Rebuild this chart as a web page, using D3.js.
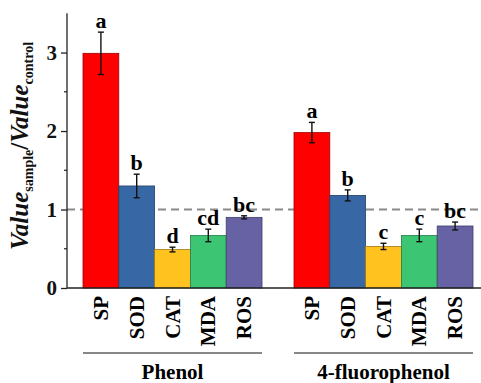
<!DOCTYPE html>
<html>
<head>
<meta charset="utf-8">
<script src="https://cdn.jsdelivr.net/npm/d3@7"></script>
<style>
  body { margin: 0; background: #fff; }
  text { font-family: 'Liberation Serif', 'Times New Roman', serif; font-weight: bold; }
</style>
</head>
<body>
<svg id="chart" width="481" height="383"></svg>
<script>
const groups = ['Phenol', '4-fluorophenol'];
const indices = ['SP', 'SOD', 'CAT', 'MDA', 'ROS'];
const colors = ['#ff0000', '#3867a6', '#ffc21e', '#3cc674', '#6662a4'];
const phenolMean = [2.99, 1.30, 0.49, 0.67, 0.90];
const phenolErr = [0.27, 0.15, 0.03, 0.08, 0.02];
const phenolLetters = ['a', 'b', 'd', 'cd', 'bc'];
const fluoroMean = [1.98, 1.18, 0.53, 0.67, 0.79];
const fluoroErr = [0.13, 0.07, 0.04, 0.08, 0.05];
const fluoroLetters = ['a', 'b', 'c', 'c', 'bc'];
const yTicks = [0, 1, 2, 3];

const series = [
  { group: groups[0], mean: phenolMean, err: phenolErr, letters: phenolLetters },
  { group: groups[1], mean: fluoroMean, err: fluoroErr, letters: fluoroLetters }
];

const svg = d3.select('#chart');
const axisX = 67;

const y = d3.scaleLinear().domain([0, 3.5]).range([288, 13.3]);

const x0 = d3.scaleBand()
  .domain(groups)
  .range([83, 473])
  .paddingInner(32 / 211)
  .paddingOuter(0);

const x1 = d3.scaleBand()
  .domain(indices)
  .range([0, x0.bandwidth()]);

// reference line at 1
svg.append('line')
  .attr('x1', axisX).attr('x2', 481)
  .attr('y1', y(1)).attr('y2', y(1))
  .attr('stroke', '#8a8a8a')
  .attr('stroke-width', 2)
  .attr('stroke-dasharray', '8,5');

const g = svg.selectAll('.group')
  .data(series)
  .join('g')
  .attr('class', 'group')
  .attr('transform', (d) => `translate(${x0(d.group)},0)`);

g.each(function (s) {
  const rows = indices.map((k, i) => ({ k, i, m: s.mean[i], e: s.err[i], l: s.letters[i] }));
  const sel = d3.select(this);

  sel.selectAll('rect')
    .data(rows)
    .join('rect')
    .attr('x', (d) => x1(d.k))
    .attr('width', x1.bandwidth())
    .attr('y', (d) => y(d.m))
    .attr('height', (d) => y(0) - y(d.m))
    .attr('fill', (d) => colors[d.i])
    .attr('stroke', (d) => d3.color(colors[d.i]).darker(1.3))
    .attr('stroke-width', 0.8);

  const eb = sel.selectAll('.err')
    .data(rows)
    .join('g')
    .attr('class', 'err')
    .attr('transform', (d) => `translate(${x1(d.k) + x1.bandwidth() / 2},0)`)
    .attr('stroke', '#111')
    .attr('stroke-width', 1.4);
  eb.append('line').attr('y1', (d) => y(d.m + d.e)).attr('y2', (d) => y(d.m - d.e));
  eb.append('line').attr('x1', -3).attr('x2', 3).attr('y1', (d) => y(d.m + d.e)).attr('y2', (d) => y(d.m + d.e));
  eb.append('line').attr('x1', -3).attr('x2', 3).attr('y1', (d) => y(d.m - d.e)).attr('y2', (d) => y(d.m - d.e));

  sel.selectAll('.letter')
    .data(rows)
    .join('text')
    .attr('class', 'letter')
    .attr('x', (d) => x1(d.k) + x1.bandwidth() / 2)
    .attr('y', (d) => y(d.m + d.e) - 4)
    .attr('text-anchor', 'middle')
    .attr('font-size', 22)
    .text((d) => d.l);

  sel.selectAll('.xlabel')
    .data(rows)
    .join('text')
    .attr('class', 'xlabel')
    .attr('text-anchor', 'end')
    .attr('font-size', 21)
    .attr('transform', (d) => `translate(${x1(d.k) + x1.bandwidth() / 2 + 7},296) rotate(-90)`)
    .text((d) => d.k);

  sel.append('line')
    .attr('x1', 0).attr('x2', x0.bandwidth())
    .attr('y1', 353).attr('y2', 353)
    .attr('stroke', '#111').attr('stroke-width', 1.2);

  sel.append('text')
    .attr('x', x0.bandwidth() / 2)
    .attr('y', 379)
    .attr('text-anchor', 'middle')
    .attr('font-size', 21)
    .text(s.group);
});

// baseline
svg.append('line')
  .attr('x1', axisX).attr('x2', 481)
  .attr('y1', y(0)).attr('y2', y(0))
  .attr('stroke', '#222').attr('stroke-width', 1.3);

// y axis
const yAxis = svg.append('g')
  .attr('transform', `translate(${axisX},0)`)
  .call(d3.axisLeft(y).tickValues(yTicks).tickSize(6).tickPadding(4).tickFormat(d3.format('d')));
yAxis.select('.domain').attr('stroke', '#222').attr('stroke-width', 1.3).attr('d', `M0,${y(3.5)}V${y(0)}`);
yAxis.selectAll('.tick line').attr('stroke', '#222').attr('stroke-width', 1.3);
yAxis.selectAll('.tick text').attr('font-size', 21).attr('font-family', "'Liberation Serif', serif").attr('font-weight', 'bold').attr('fill', '#111');

svg.append('g')
  .selectAll('line')
  .data([0.5, 1.5, 2.5])
  .join('line')
  .attr('x1', axisX - 3).attr('x2', axisX)
  .attr('y1', (d) => y(d)).attr('y2', (d) => y(d))
  .attr('stroke', '#222').attr('stroke-width', 1.2);

// y label
const yl = svg.append('text')
  .attr('transform', 'translate(28,146) rotate(-90)')
  .attr('text-anchor', 'middle')
  .attr('font-size', 25)
  .attr('fill', '#111');
yl.append('tspan').attr('font-style', 'italic').text('Value');
yl.append('tspan').attr('font-size', 14).attr('dy', 5).text('sample');
yl.append('tspan').attr('dy', -5).text('/');
yl.append('tspan').attr('font-style', 'italic').text('Value');
yl.append('tspan').attr('font-size', 14).attr('dy', 5).text('control');
</script>
</body>
</html>
